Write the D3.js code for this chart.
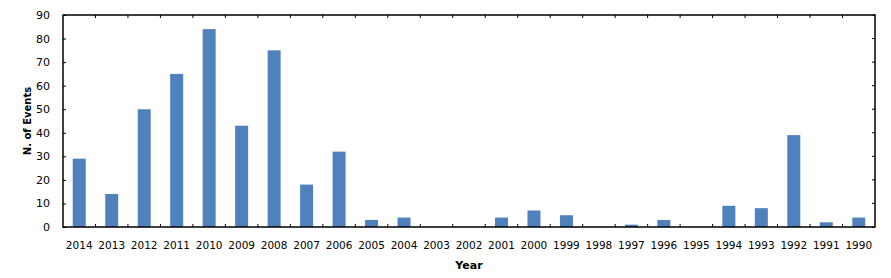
<!DOCTYPE html>
<html>
<head>
<meta charset="utf-8">
<script src="https://cdn.jsdelivr.net/npm/d3@7"></script>
<style>
  body { margin: 0; background: #fff; }
  text { font-family: "DejaVu Sans", Verdana, sans-serif; fill: #000; }
</style>
</head>
<body>
<script>
// Data
const years = ["2014", "2013", "2012", "2011", "2010", "2009", "2008", "2007", "2006", "2005",
               "2004", "2003", "2002", "2001", "2000", "1999", "1998", "1997", "1996", "1995",
               "1994", "1993", "1992", "1991", "1990"];
const events = [29, 14, 50, 65, 84, 43, 75, 18, 32, 3,
                4, 0, 0, 4, 7, 5, 0, 1, 3, 0,
                9, 8, 39, 2, 4];
const yTicks = [0, 10, 20, 30, 40, 50, 60, 70, 80, 90];

const W = 891, H = 278;
const margin = {top: 15, right: 16, bottom: 51, left: 63},
      width = W - margin.left - margin.right,
      height = H - margin.top - margin.bottom;

const svg = d3.select("body").append("svg")
    .attr("width", W)
    .attr("height", H);

const g = svg.append("g")
    .attr("transform", "translate(" + margin.left + "," + margin.top + ")");

const x = d3.scaleBand()
  .domain(years)
  .range([0, width])
  .paddingInner(0.6)
  .paddingOuter(0.3);

const y = d3.scaleLinear()
  .domain([0, 90])
  .range([height, 0]);

// Bars
g.selectAll("rect.bar")
  .data(years.map((yr, i) => ({yr: yr, v: events[i]})))
  .enter()
  .append("rect")
    .attr("class", "bar")
    .attr("x", d => x(d.yr))
    .attr("y", d => y(d.v))
    .attr("width", x.bandwidth())
    .attr("height", d => height - y(d.v))
    .attr("fill", "#4f81bd");

// Category boundaries for x ticks
const step = width / years.length;
const bounds = d3.range(1, years.length).map(i => i * step);

// Bottom ticks (inside) and labels
g.selectAll("line.bt").data(bounds).enter().append("line")
  .attr("x1", d => d).attr("x2", d => d)
  .attr("y1", height).attr("y2", height - 3)
  .attr("stroke", "#000");
g.selectAll("line.tt").data(bounds).enter().append("line")
  .attr("x1", d => d).attr("x2", d => d)
  .attr("y1", 0).attr("y2", 3)
  .attr("stroke", "#000");

g.selectAll("text.xl").data(years).enter().append("text")
  .attr("x", d => x(d) + x.bandwidth() / 2)
  .attr("y", height + 22)
  .attr("text-anchor", "middle")
  .style("font-size", "10.5px")
  .text(d => d);

// Left axis
const yAxis = d3.axisLeft(y).tickValues(yTicks).tickSizeInner(-3).tickSizeOuter(0).tickPadding(13);
const ya = g.append("g").call(yAxis);
ya.select(".domain").remove();
ya.selectAll("line").attr("stroke", "#000");
ya.selectAll("text").style("font-size", "11px").attr("fill", "#000");

// Right axis ticks
g.selectAll("line.rt").data(yTicks).enter().append("line")
  .attr("x1", width).attr("x2", width - 3)
  .attr("y1", d => y(d)).attr("y2", d => y(d))
  .attr("stroke", "#000");

// Frame
g.append("rect")
  .attr("width", width).attr("height", height)
  .attr("fill", "none")
  .attr("stroke", "#000")
  .attr("stroke-width", 1.5);

// Titles
svg.append("text")
  .attr("x", margin.left + width / 2)
  .attr("y", 269)
  .attr("text-anchor", "middle")
  .style("font-size", "11px")
  .style("font-weight", "bold")
  .text("Year");

svg.append("text")
  .attr("transform", "translate(31," + (margin.top + height / 2) + ") rotate(-90)")
  .attr("text-anchor", "middle")
  .style("font-size", "10px")
  .style("font-weight", "bold")
  .text("N. of Events");
</script>
</body>
</html>
